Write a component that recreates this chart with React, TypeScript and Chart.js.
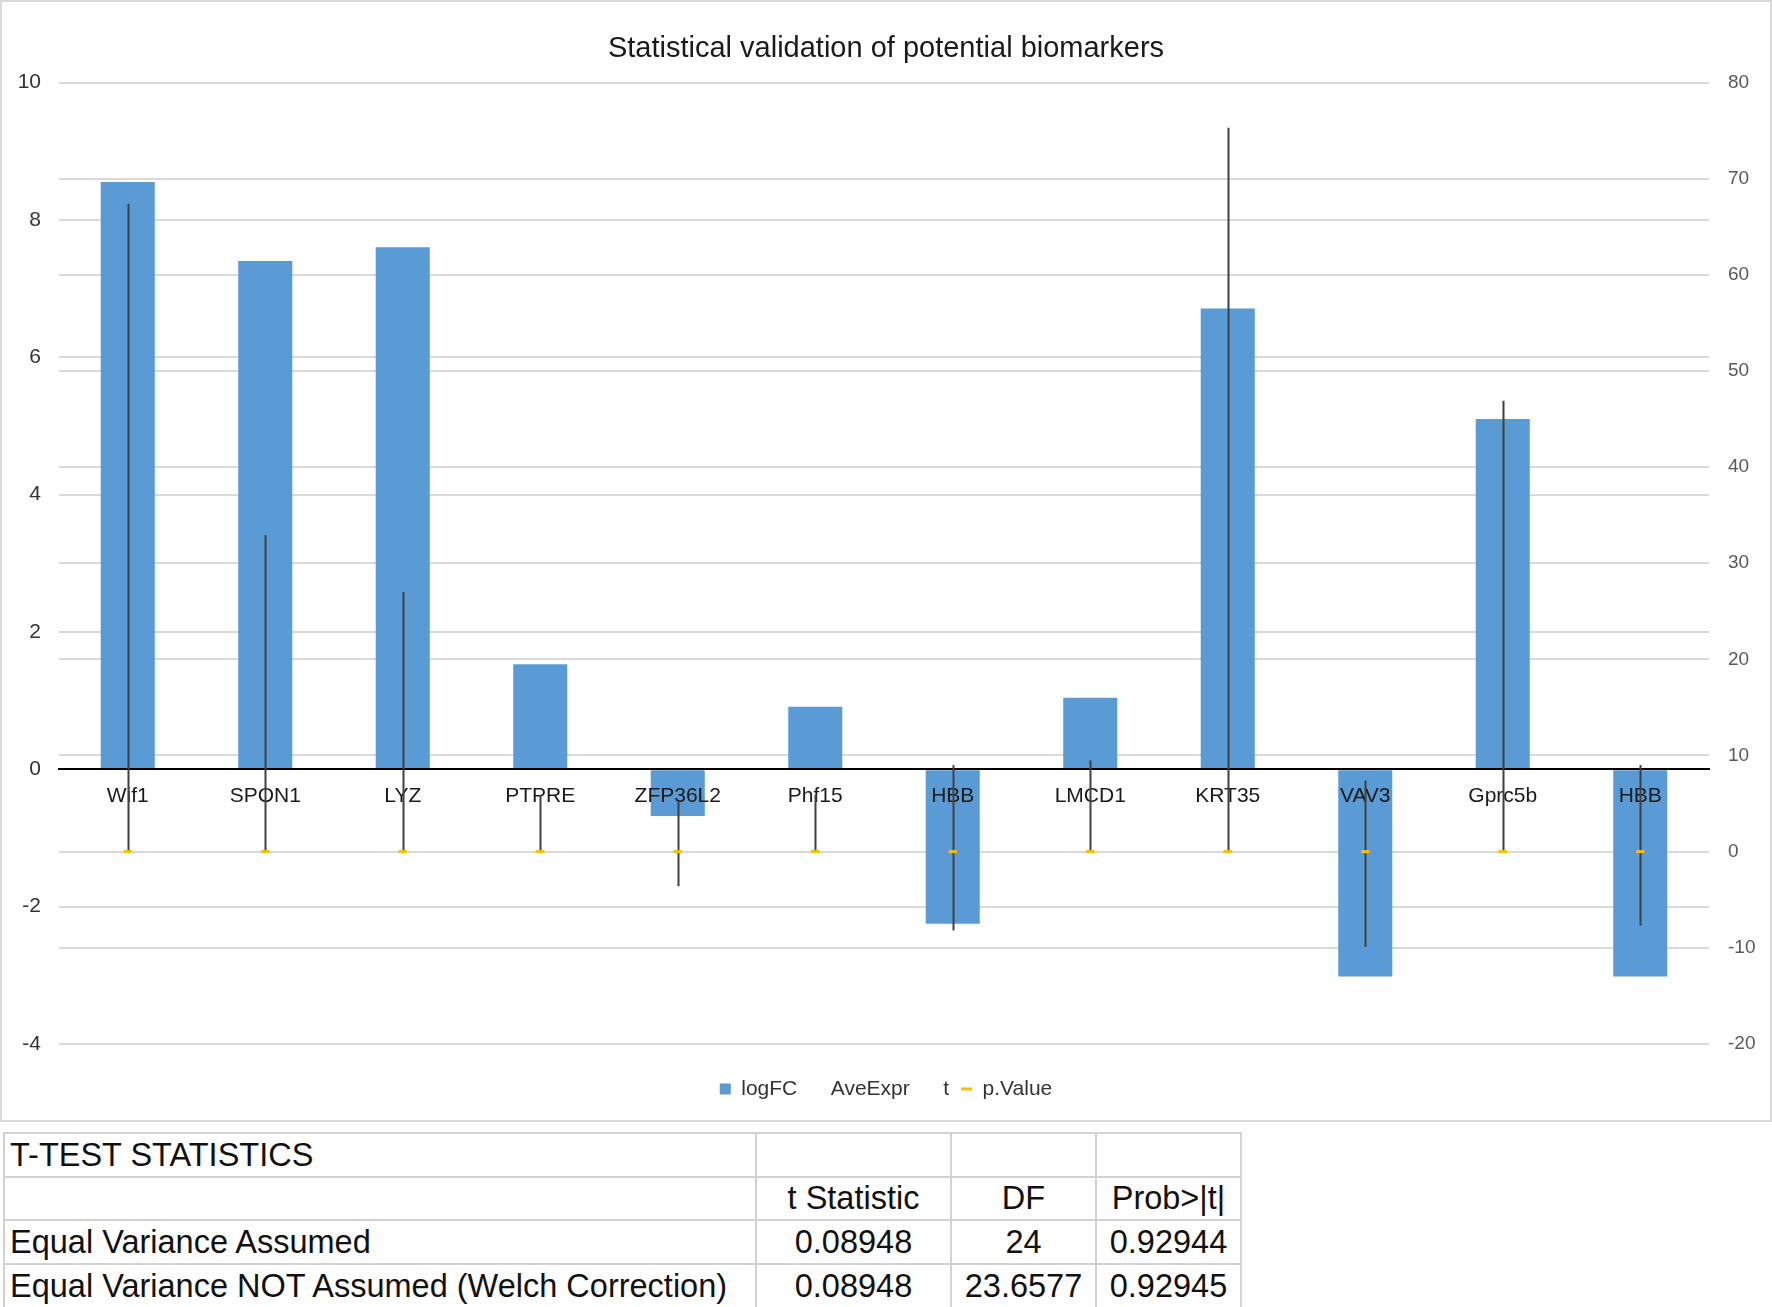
import React, { useEffect, useRef } from "react";
import { Chart, registerables } from "chart.js";

Chart.register(...registerables);

const FONT = "'Liberation Sans', Arial, Helvetica, sans-serif";

const chartTitle = "Statistical validation of potential biomarkers";
const genes = ["Wif1", "SPON1", "LYZ", "PTPRE", "ZFP36L2", "Phf15", "HBB", "LMCD1", "KRT35", "VAV3", "Gprc5b", "HBB"];
const logFC = [8.55, 7.4, 7.6, 1.53, -0.68, 0.91, -2.25, 1.04, 6.71, -3.02, 5.1, -3.02];
const aveExpr = [9.8, 8.6, 10.2, 5.9, 5.2, 5.9, 9.0, 9.5, 7.4, 7.4, 8.1, 9.0];
const tStat = [67.4, 32.9, 27.0, 3.2, -3.6, 2.1, -8.2, 4.4, 75.3, -9.9, 46.9, -7.7];
const pValue = [0, 0, 0, 0, 0, 0, 0, 0, 0, 0, 0, 0];
const seriesNames = ["logFC", "AveExpr", "t", "p.Value"];

const leftAxis = { min: -4, max: 10, step: 2 };
const rightAxis = { min: -20, max: 80, step: 10 };

const tableTitle = "T-TEST STATISTICS";
const tableHeader = ["", "t Statistic", "DF", "Prob>|t|"];
const tableRows = [
  ["Equal Variance Assumed", "0.08948", "24", "0.92944"],
  ["Equal Variance NOT Assumed (Welch Correction)", "0.08948", "23.6577", "0.92945"],
];

const BAR_BLUE = "#5B9BD5";
const PV_GOLD = "#FFC000";
const GRID = "#dadada";

const hiLoPlugin = {
  id: "hiLo",
  afterDraw(chart: any) {
    const x = chart.scales.x;
    const y2 = chart.scales.y2;
    const ds = chart.data.datasets;
    const ctx = chart.ctx;
    ctx.save();
    ctx.strokeStyle = "#404040";
    ctx.lineWidth = 2;
    for (let i = 0; i < chart.data.labels.length; i++) {
      const vals = [ds[1].data[i], ds[2].data[i], ds[3].data[i]];
      const hi = Math.max(...vals);
      const lo = Math.min(...vals);
      const px = Math.round(x.getPixelForValue(i)) + 0.5;
      ctx.beginPath();
      ctx.moveTo(px, y2.getPixelForValue(hi));
      ctx.lineTo(px, y2.getPixelForValue(lo));
      ctx.stroke();
    }
    ctx.restore();
    const meta = chart.getDatasetMeta(3);
    if (meta && meta.controller) meta.controller.draw();
  },
};

function ChartBox() {
  const ref = useRef<HTMLCanvasElement | null>(null);
  useEffect(() => {
    if (!ref.current) return;
    Chart.defaults.font.family = FONT;
    const chart = new Chart(ref.current, {
      data: {
        labels: genes,
        datasets: [
          {
            type: "bar",
            label: seriesNames[0],
            data: logFC,
            yAxisID: "y",
            backgroundColor: BAR_BLUE,
            barPercentage: 0.393,
            categoryPercentage: 1,
          },
          {
            type: "line",
            label: seriesNames[1],
            data: aveExpr,
            yAxisID: "y2",
            showLine: false,
            pointRadius: 0,
            borderColor: "rgba(0,0,0,0)",
            backgroundColor: "rgba(0,0,0,0)",
          },
          {
            type: "line",
            label: seriesNames[2],
            data: tStat,
            yAxisID: "y2",
            showLine: false,
            pointRadius: 0,
            borderColor: "rgba(0,0,0,0)",
            backgroundColor: "rgba(0,0,0,0)",
          },
          {
            type: "line",
            label: seriesNames[3],
            data: pValue,
            yAxisID: "y2",
            showLine: false,
            pointStyle: "line",
            pointRadius: 4,
            pointBorderWidth: 3,
            pointBorderColor: PV_GOLD,
            borderColor: PV_GOLD,
            backgroundColor: PV_GOLD,
          },
        ],
      } as any,
      options: {
        animation: false,
        responsive: false,
        devicePixelRatio: 1,
        layout: { padding: { top: 0, left: 0, right: 0, bottom: 10.5 } },
        plugins: {
          tooltip: { enabled: false },
          title: {
            display: true,
            text: chartTitle,
            color: "#1a1a1a",
            font: { size: 29, weight: "normal", family: FONT },
            padding: { top: 29.5, bottom: 16.2 },
          },
          legend: {
            position: "bottom",
            title: {
              display: true,
              text: "",
              font: { size: 10, lineHeight: 1 },
              padding: { top: 12.6, bottom: 0 },
            },
            labels: {
              font: { size: 21, family: FONT },
              color: "#333333",
              usePointStyle: true,
              boxWidth: 11,
              boxHeight: 11,
              pointStyleWidth: 11,
              padding: 12,
              generateLabels: (c: any) =>
                c.data.datasets.map((d: any, i: number) => {
                  if (i === 0)
                    return { text: d.label, fillStyle: BAR_BLUE, strokeStyle: BAR_BLUE, lineWidth: 0, pointStyle: "rect", hidden: false, datasetIndex: i, fontColor: "#333333" };
                  if (i === 3)
                    return { text: d.label, fillStyle: PV_GOLD, strokeStyle: PV_GOLD, lineWidth: 3, pointStyle: "line", hidden: false, datasetIndex: i, fontColor: "#333333" };
                  return { text: d.label, fillStyle: "rgba(0,0,0,0)", strokeStyle: "rgba(0,0,0,0)", lineWidth: 0, pointStyle: "rect", hidden: false, datasetIndex: i, fontColor: "#333333" };
                }),
            },
          },
        },
        scales: {
          x: {
            type: "category",
            position: { y: 0 } as any,
            offset: true,
            grid: { display: false, drawTicks: false },
            border: { display: true, color: "#000000", width: 2, z: 1 },
            ticks: {
              color: "#1a1a1a",
              font: { size: 21, family: FONT },
              padding: 14,
              maxRotation: 0,
              autoSkip: false,
              z: 1,
            },
          },
          y: {
            position: "left",
            min: leftAxis.min,
            max: leftAxis.max,
            ticks: { stepSize: leftAxis.step, color: "#333333", font: { size: 21, family: FONT }, padding: 18 },
            grid: { color: GRID, lineWidth: 2, drawTicks: false },
            border: { display: false },
            afterFit: (s: any) => {
              s.width = 57;
            },
          },
          y2: {
            position: "right",
            min: rightAxis.min,
            max: rightAxis.max,
            ticks: { stepSize: rightAxis.step, color: "#595959", font: { size: 19, family: FONT }, padding: 19 },
            grid: { color: GRID, lineWidth: 2, drawTicks: false },
            border: { display: false },
            afterFit: (s: any) => {
              s.width = 61;
            },
          },
        },
      } as any,
      plugins: [hiLoPlugin],
    });
    return () => chart.destroy();
  }, []);
  return <canvas ref={ref} width={1768} height={1118} style={{ width: 1768, height: 1118, display: "block" }} />;
}

function StatsTable() {
  const colW = [752, 195, 145, 145];
  const rowH = [44, 43, 44, 44];
  const cell = (extra: any) => ({
    border: "2px solid #d2d2d2",
    padding: 0,
    whiteSpace: "nowrap" as const,
    overflow: "hidden",
    ...extra,
  });
  const rows = [[tableTitle, "", "", ""], tableHeader, ...tableRows];
  return (
    <table
      style={{
        position: "absolute",
        left: 3,
        top: 1132,
        borderCollapse: "collapse",
        tableLayout: "fixed",
        width: colW.reduce((a, b) => a + b, 0),
        fontFamily: FONT,
        fontSize: 32.5,
        color: "#111111",
      }}
    >
      <colgroup>
        {colW.map((w, i) => (
          <col key={i} style={{ width: w }} />
        ))}
      </colgroup>
      <tbody>
        {rows.map((r, ri) => (
          <tr key={ri} style={{ height: rowH[ri] }}>
            {r.map((c, ci) => (
              <td
                key={ci}
                style={cell({
                  textAlign: ci === 0 ? "left" : "center",
                  paddingLeft: ci === 0 ? 5 : 0,
                  lineHeight: "1",
                })}
              >
                {c}
              </td>
            ))}
          </tr>
        ))}
      </tbody>
    </table>
  );
}

export default function App() {
  return (
    <div style={{ position: "absolute", left: 0, top: 0, width: 1772, height: 1307, background: "#ffffff", overflow: "hidden" }}>
      <div
        style={{
          position: "absolute",
          left: 0,
          top: 0,
          width: 1772,
          height: 1122,
          border: "2px solid #d9d9d9",
          boxSizing: "border-box",
          background: "#ffffff",
        }}
      >
        <ChartBox />
      </div>
      <StatsTable />
    </div>
  );
}
